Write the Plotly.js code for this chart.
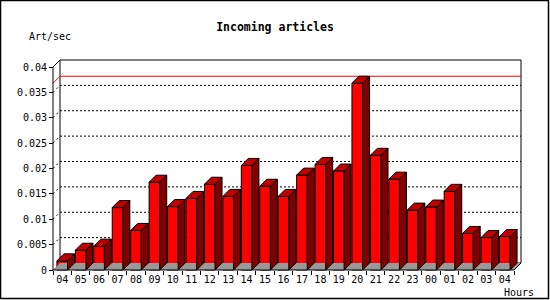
<!DOCTYPE html>
<html><head><meta charset="utf-8">
<script src="https://cdn.plot.ly/plotly-3.0.1.min.js"></script>
<style>html,body{margin:0;padding:0;background:#fff}#chart{width:550px;height:300px}</style>
</head><body><div id="chart"></div>
<script>
// ---- data ----
const hours = ["04","05","06","07","08","09","10","11","12","13","14","15","16","17","18","19","20","21","22","23","00","01","02","03","04"];
const artPerSec = [0.0018,0.0039,0.0047,0.0123,0.0078,0.0173,0.0125,0.0141,0.0169,0.0145,0.0206,0.0165,0.0145,0.0187,0.0208,0.0195,0.0368,0.0226,0.0179,0.0118,0.0124,0.0155,0.0072,0.0064,0.0066];
const yTickVals = [0,0.005,0.01,0.015,0.02,0.025,0.03,0.035,0.04];
const yTickText = ["0","0.005","0.01","0.015","0.02","0.025","0.03","0.035","0.04"];
const chartTitle = "Incoming articles";
const yLabel = "Art/sec";
const xLabel = "Hours";

// ---- geometry (pixels) ----
const W=550,H=300;
const L=52,R=523,T=58,B=272;          // plot area
const axisX=53, axisY=270, frontRight=514, yTopPx=67;
const n=hours.length;
const pxCat=(frontRight-axisX)/n;
const pxVal=(axisY-yTopPx)/0.04;
const dx=7/pxCat, dy=7/pxVal;
const bw=10.6/pxCat;
const xr=[-0.5-(axisX-L)/pxCat, -0.5+(R-axisX)/pxCat];
const yr=[-(B-axisY)/pxVal, (axisY-T)/pxVal];
const idx=hours.map((h,i)=>i);
const maxV=Math.max(...artPerSec);

// faces
const sideX=[],sideY=[],topX=[],topY=[];
idx.forEach(i=>{
  const v=artPerSec[i], xl=i-bw/2, xrr=i+bw/2;
  sideX.push(xrr,xrr,xrr+dx,xrr+dx,xrr,null);
  sideY.push(0,v,v+dy,dy,0,null);
  topX.push(xl,xrr,xrr+dx,xl+dx,xl,null);
  topY.push(v,v,v+dy,v+dy,v,null);
});

const traces=[
  {type:'scatter',x:[-0.5,n-0.5,n-0.5+dx,-0.5+dx,-0.5],y:[0,0,dy,dy,0],fill:'toself',fillcolor:'#999999',line:{width:0},mode:'lines',hoverinfo:'skip',showlegend:false},
  {type:'scatter',x:sideX,y:sideY,fill:'toself',fillcolor:'#800000',line:{color:'#000',width:1},mode:'lines',hoverinfo:'skip',showlegend:false},
  {type:'scatter',x:topX,y:topY,fill:'toself',fillcolor:'#c00000',line:{color:'#000',width:1},mode:'lines',hoverinfo:'skip',showlegend:false},
  {type:'bar',x:idx,y:artPerSec,width:bw,marker:{color:'#ff0000',line:{color:'#000',width:1}},hoverinfo:'skip',showlegend:false},
  {type:'scatter',x:[-0.5],y:[0],xaxis:'x2',mode:'none',hoverinfo:'skip',showlegend:false}
];

const shapes=[];
// back wall
shapes.push({type:'rect',xref:'x',yref:'y',x0:-0.5+dx,x1:n-0.5+dx,y0:dy,y1:0.04+dy,line:{color:'#000',width:1},fillcolor:'#fff',layer:'below'});
// grid lines on back wall + tick diagonals
yTickVals.forEach(t=>{
  if(t>0 && t<0.04){
    shapes.push({type:'line',xref:'x',yref:'y',x0:-0.5+dx,x1:n-0.5+dx,y0:t+dy,y1:t+dy,line:{color:'#000',width:1,dash:'2px,2px'},layer:'below'});
  }
  if(t<0.04){
    shapes.push({type:'line',xref:'x',yref:'y',x0:-0.5,x1:-0.5+dx,y0:t,y1:t+dy,line:{color:'#000',width:1,dash:'2px,3px'},layer:'below'});
  }
});
// max line (3D)
shapes.push({type:'line',xref:'x',yref:'y',x0:-0.5+dx,x1:n-0.5+dx,y0:maxV+dy,y1:maxV+dy,line:{color:'#ff0000',width:1},layer:'below'});
shapes.push({type:'line',xref:'x',yref:'y',x0:-0.5,x1:-0.5+dx,y0:maxV,y1:maxV+dy,line:{color:'#ff0000',width:1},layer:'below'});
// front axes
shapes.push({type:'line',xref:'x',yref:'y',x0:-0.5,x1:-0.5,y0:0,y1:0.04,line:{color:'#000',width:1}});
shapes.push({type:'line',xref:'x',yref:'y',x0:-0.5,x1:-0.5+dx,y0:0.04,y1:0.04+dy,line:{color:'#000',width:1}});
shapes.push({type:'line',xref:'x',yref:'y',x0:-0.5,x1:n-0.5,y0:0,y1:0,line:{color:'#000',width:1}});
shapes.push({type:'line',xref:'x',yref:'y',x0:n-0.5,x1:n-0.5+dx,y0:0,y1:dy,line:{color:'#000',width:1}});
// outer image border
const px2x=p=>(p-L)/(R-L), py2y=p=>(B-p)/(B-T);
shapes.push({type:'rect',xref:'paper',yref:'paper',x0:px2x(0.5),x1:px2x(548.5),y0:py2y(0.5),y1:py2y(298.5),line:{color:'#000',width:1.5}});

const mono='"DejaVu Sans Mono", monospace';
const layout={
  width:W,height:H,margin:{l:L,r:W-R,t:T,b:H-B},
  paper_bgcolor:'#fff',plot_bgcolor:'rgba(0,0,0,0)',
  showlegend:false,bargap:0,
  title:{text:chartTitle,font:{family:mono,size:11.5,color:'#000',weight:'bold'},x:0.5,xref:'container',y:1-27/H,yref:'container',yanchor:'middle'},
  xaxis:{type:'linear',range:xr,tickvals:idx,ticktext:hours,ticks:'',showgrid:false,zeroline:false,showline:false,
         anchor:'free',position:(B-axisY)/(B-T),tickfont:{family:mono,size:10,color:'#000'},ticklabelstandoff:2,fixedrange:true},
  xaxis2:{type:'linear',range:xr,overlaying:'x',anchor:'free',position:(B-axisY)/(B-T),tickvals:idx.map(i=>i-0.5).concat([n-0.5]),
          showticklabels:false,ticks:'outside',ticklen:4,tickcolor:'#000',showgrid:false,zeroline:false,showline:false,fixedrange:true},
  yaxis:{range:yr,tickvals:yTickVals,ticktext:yTickText,ticks:'outside',ticklen:4,tickcolor:'#000',showgrid:false,zeroline:false,showline:false,
         anchor:'free',position:(axisX-L)/(R-L),tickfont:{family:mono,size:10,color:'#000'},fixedrange:true},
  shapes:shapes,
  annotations:[
    {text:yLabel,xref:'paper',yref:'paper',x:px2x(50),y:py2y(37),showarrow:false,xanchor:'center',yanchor:'middle',font:{family:mono,size:10,color:'#000'}},
    {text:xLabel,xref:'paper',yref:'paper',x:px2x(519),y:py2y(292),showarrow:false,xanchor:'center',yanchor:'middle',font:{family:mono,size:10,color:'#000'}}
  ]
};
Plotly.newPlot('chart',traces,layout,{staticPlot:true,displayModeBar:false});
</script></body></html>
